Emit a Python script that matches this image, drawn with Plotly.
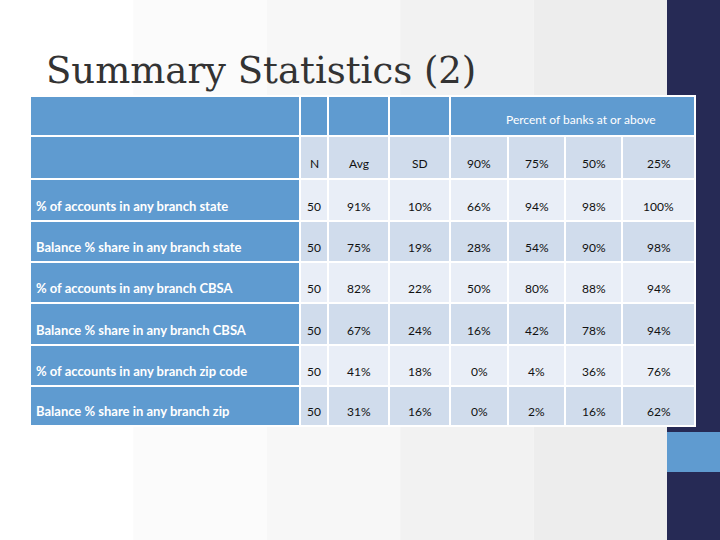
import plotly.graph_objects as go

row_labels = ["% of accounts in any branch state", "Balance % share in any branch state",
              "% of accounts in any branch CBSA", "Balance % share in any branch CBSA",
              "% of accounts in any branch zip code", "Balance % share in any branch zip"]
col_headers = ["N", "Avg", "SD", "90%", "75%", "50%", "25%"]
n_vals = [50, 50, 50, 50, 50, 50]
avg_vals = [91, 75, 82, 67, 41, 31]
sd_vals = [10, 19, 22, 24, 18, 16]
p90 = [66, 28, 50, 16, 0, 0]
p75 = [94, 54, 80, 42, 4, 2]
p50 = [98, 90, 88, 78, 36, 16]
p25 = [100, 98, 94, 94, 76, 62]

BLUE = "#5F9BD0"
DARK = "#D0DCEC"
LIGHT = "#E9EEF7"
NAVY = "#262A55"
FONT = "Lato"

col_edges = [30, 300, 328, 389, 450, 508, 565, 622, 695]
row_edges = [96, 136, 179, 221, 262, 303, 345, 386, 426]

fig = go.Figure()
shapes = []
# slide background (soft grey gradient approximated with bands)
greys = ["#FFFFFF", "#FBFBFB", "#F7F7F7", "#F2F2F2", "#EDEDED"]
for k, g in enumerate(greys):
    shapes.append(dict(type="rect", x0=k * 667 / 5, x1=(k + 1) * 667 / 5, y0=0, y1=540,
                       fillcolor=g, line_width=0, layer="below"))
shapes.append(dict(type="rect", x0=667, x1=720, y0=0, y1=540, fillcolor=NAVY, line_width=0, layer="below"))
shapes.append(dict(type="rect", x0=667, x1=720, y0=432, y1=472, fillcolor=BLUE, line_width=0, layer="below"))

def cell(x0, x1, y0, y1, color):
    shapes.append(dict(type="rect", x0=x0, x1=x1, y0=y0, y1=y1, fillcolor=color,
                       line=dict(color="white", width=2)))

# header row 1
for i in range(4):
    cell(col_edges[i], col_edges[i + 1], row_edges[0], row_edges[1], BLUE)
cell(col_edges[4], col_edges[-1], row_edges[0], row_edges[1], BLUE)
# header row 2
cell(col_edges[0], col_edges[1], row_edges[1], row_edges[2], BLUE)
for i in range(1, 8):
    cell(col_edges[i], col_edges[i + 1], row_edges[1], row_edges[2], DARK)
# data rows
for r in range(len(row_labels)):
    y0, y1 = row_edges[r + 2], row_edges[r + 3]
    cell(col_edges[0], col_edges[1], y0, y1, BLUE)
    for i in range(1, 8):
        cell(col_edges[i], col_edges[i + 1], y0, y1, LIGHT if r % 2 == 0 else DARK)

anns = [dict(x=44, y=70, text="Summary Statistics (2)", showarrow=False, xanchor="left", yanchor="middle",
             font=dict(family="DejaVu Serif", size=37, color="#333333")),
        dict(x=(col_edges[4] + col_edges[-1]) / 2 + 8, y=row_edges[1] - 7, text="Percent of banks at or above",
             showarrow=False, yanchor="bottom", font=dict(family=FONT, size=12, color="white"))]
centers = [(col_edges[i] + col_edges[i + 1]) / 2 for i in range(1, 8)]
for c, h in zip(centers, col_headers):
    anns.append(dict(x=c, y=row_edges[2] - 6, text=h, showarrow=False, yanchor="bottom",
                     font=dict(family=FONT, size=12, color="#111111")))
cols = [n_vals, avg_vals, sd_vals, p90, p75, p50, p25]
for r, lab in enumerate(row_labels):
    yb = row_edges[r + 3] - 5
    anns.append(dict(x=col_edges[0] + 4, y=yb, text="<b>" + lab + "</b>", showarrow=False, xanchor="left",
                     yanchor="bottom", font=dict(family=FONT, size=13, color="white")))
    for j, c in enumerate(centers):
        v = cols[j][r]
        txt = str(v) if j == 0 else f"{v}%"
        anns.append(dict(x=c, y=yb, text=txt, showarrow=False, yanchor="bottom",
                         font=dict(family=FONT, size=12, color="#111111")))

fig.add_trace(go.Scatter(x=[0, 720], y=[0, 540], mode="markers", marker=dict(opacity=0), hoverinfo="skip"))
fig.update_layout(width=720, height=540, margin=dict(l=0, r=0, t=0, b=0), showlegend=False,
                  shapes=shapes, annotations=anns, plot_bgcolor="white", paper_bgcolor="white",
                  xaxis=dict(range=[0, 720], visible=False, fixedrange=True),
                  yaxis=dict(range=[540, 0], visible=False, fixedrange=True))
fig.write_html("out.html", config={"displayModeBar": False},
               post_script="document.body.style.margin='0';document.body.style.overflow='hidden';")
